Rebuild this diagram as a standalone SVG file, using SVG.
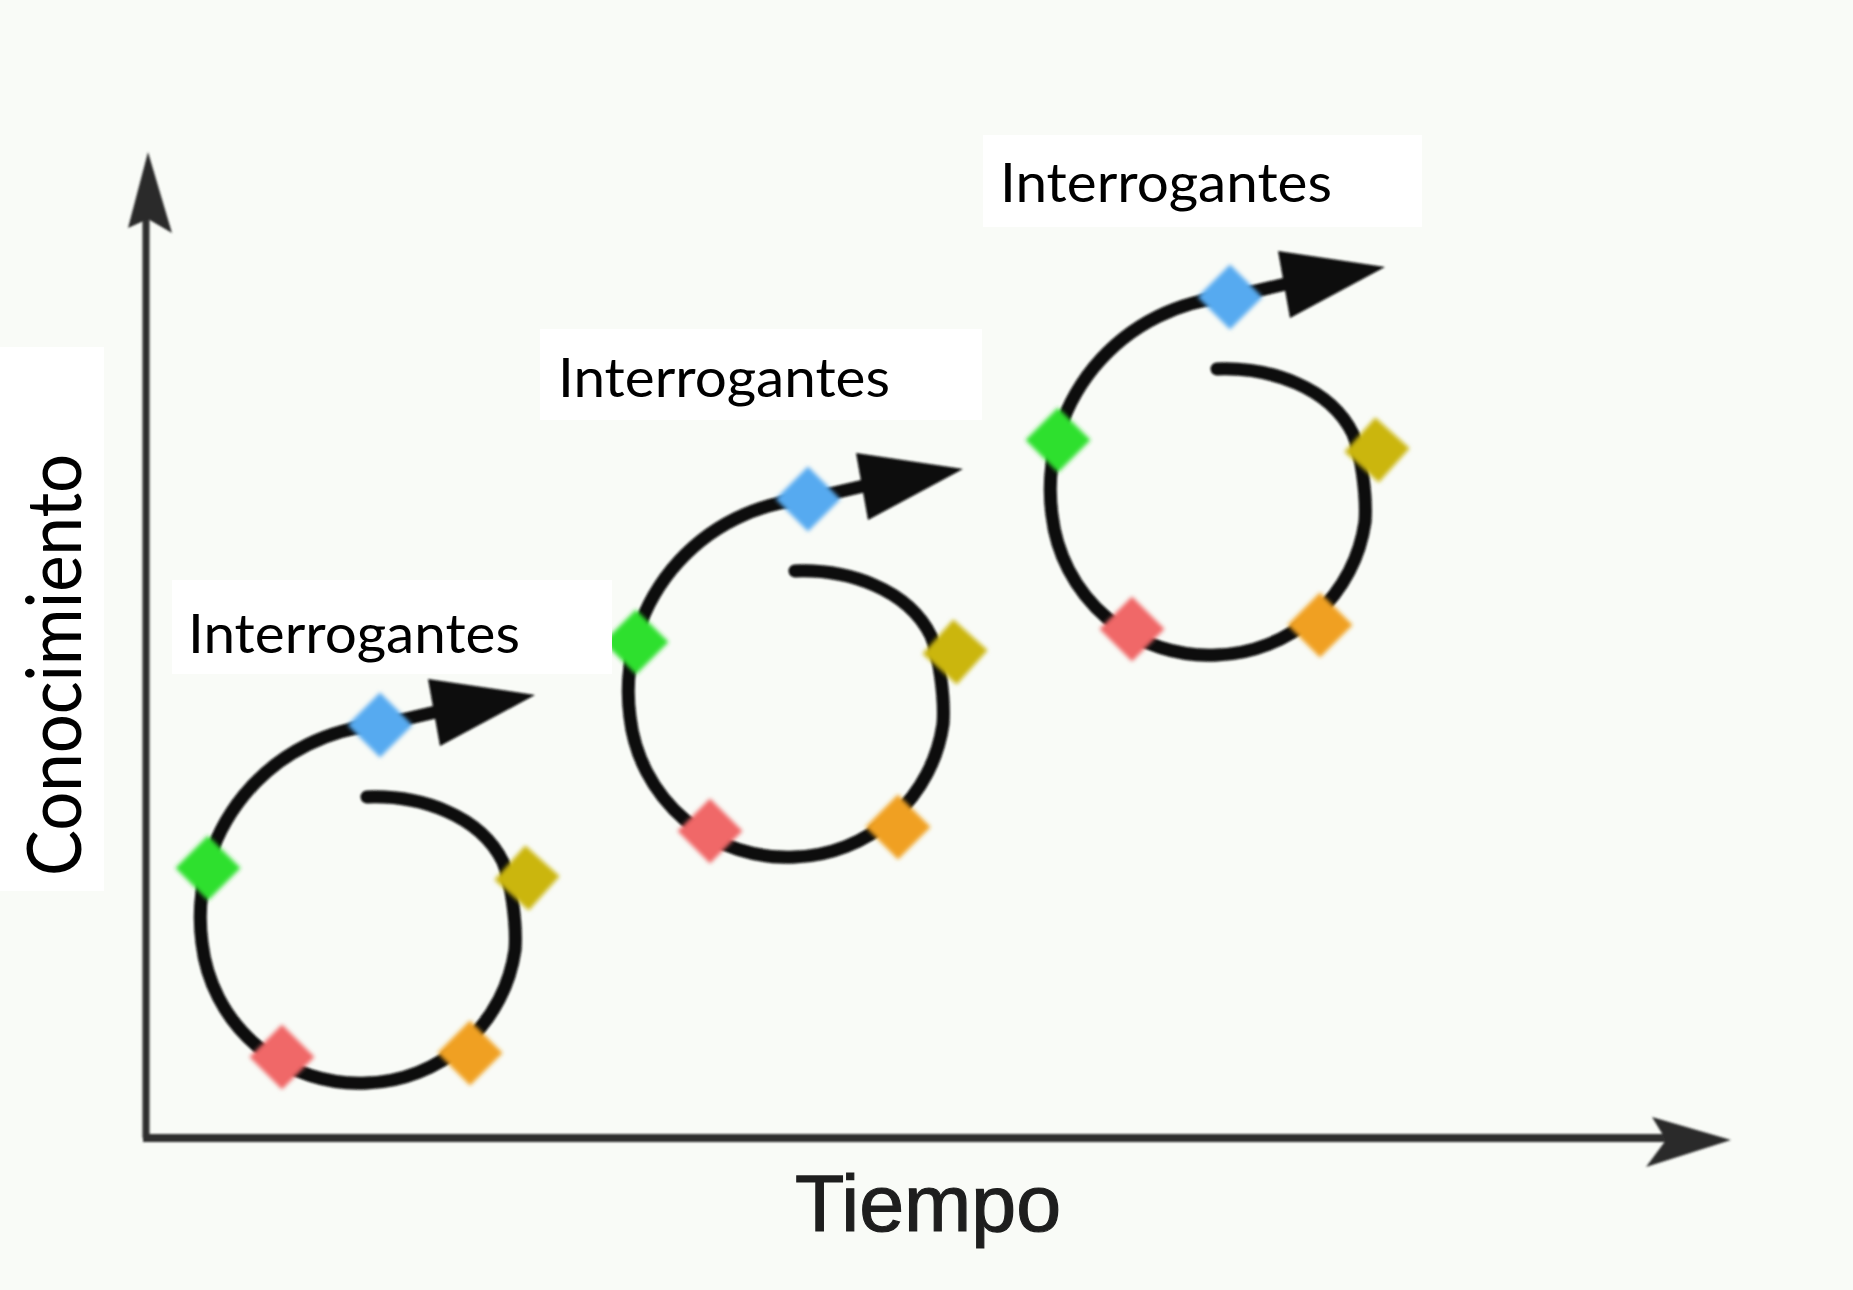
<svg xmlns="http://www.w3.org/2000/svg" xmlns:xlink="http://www.w3.org/1999/xlink" width="1853" height="1290" viewBox="0 0 1853 1290">
<style>
  .bg { fill: #f9fbf7; }
  .box { fill: #ffffff; }
  .spiral { fill: none; stroke: #0a0a0a; stroke-width: 13; stroke-linecap: round; stroke-linejoin: round; }
  .head { fill: #0a0a0a; }
  .axis { fill: none; stroke: #2e2e2e; stroke-width: 7; stroke-linecap: butt; }
  .axhead { fill: #2a2a2a; }
  .lbl { font-family: Lato, "Noto Sans", "Liberation Sans", sans-serif; font-size: 55px; fill: #000000; }
  .ylbl { font-family: Lato, "Noto Sans", "Liberation Sans", sans-serif; font-size: 76px; fill: #000000; }
  .xlbl { font-family: "Liberation Sans", Arial, sans-serif; font-size: 80px; fill: #1e1e1e; stroke: #1e1e1e; stroke-width: 1.2; }
  .green { fill: #2fe02f; }
  .blue { fill: #56aaf0; }
  .yellow { fill: #cbb60e; }
  .orange { fill: #f0a020; }
  .red { fill: #f06868; }
</style>
<defs>
  <filter id="soft" x="-10%" y="-10%" width="120%" height="120%">
    <feGaussianBlur stdDeviation="1.3"/>
  </filter>
  <filter id="softer" x="-30%" y="-30%" width="160%" height="160%">
    <feGaussianBlur stdDeviation="2.2"/>
  </filter>
  <rect id="dia" x="-23" y="-23" width="46" height="46"/>
  <g id="cycle-shape">
    <g filter="url(#soft)">
      <path class="spiral" d="M367,797 C420,795 480,815 503,862 C511,880 517,925 515,950 A155,155 0 0 1 367,1083 A158,158 0 0 1 202,943 A193,193 0 0 1 380,725 L440,711"/>
      <polygon class="head" points="428,679 535,695 440,746"/>
    </g>
    <g filter="url(#softer)">
      <use xlink:href="#dia" class="green" transform="translate(208,868) rotate(45)"/>
      <use xlink:href="#dia" class="blue" transform="translate(380,725) rotate(45)"/>
      <use xlink:href="#dia" class="yellow" transform="translate(527,878) rotate(42)"/>
      <use xlink:href="#dia" class="orange" transform="translate(470,1053) rotate(45)"/>
      <use xlink:href="#dia" class="red" transform="translate(282,1057) rotate(45)"/>
    </g>
  </g>
</defs>

<rect class="bg" x="0" y="0" width="1853" height="1290"/>

<g id="connectors" filter="url(#soft)">
  <line class="axis" x1="146" y1="1138" x2="146" y2="210"/>
  <path class="axhead" d="M148,152 L172,233 L148,219 L128,228 Z"/>
  <line class="axis" x1="143" y1="1138" x2="1675" y2="1138" style="stroke-width:8"/>
  <path class="axhead" d="M1731,1140 L1646,1167 L1666,1140 L1652,1117 Z"/>
</g>

<g id="cycle-1">
  <use xlink:href="#cycle-shape"/>
</g>
<g id="cycle-2" transform="translate(428,-226)">
  <use xlink:href="#cycle-shape"/>
</g>
<g id="cycle-3" transform="translate(850,-428)">
  <use xlink:href="#cycle-shape"/>
</g>

<g id="label-1">
  <rect class="box" x="172" y="580" width="440" height="94"/>
  <text class="lbl" x="188" y="653" textLength="332" lengthAdjust="spacingAndGlyphs">Interrogantes</text>
</g>
<g id="label-2">
  <rect class="box" x="540" y="329" width="442" height="91"/>
  <text class="lbl" x="558" y="397" textLength="332" lengthAdjust="spacingAndGlyphs">Interrogantes</text>
</g>
<g id="label-3">
  <rect class="box" x="983" y="135" width="439" height="92"/>
  <text class="lbl" x="1000" y="202" textLength="332" lengthAdjust="spacingAndGlyphs">Interrogantes</text>
</g>

<g id="y-label">
  <rect class="box" x="0" y="347" width="104" height="544"/>
  <text class="ylbl" transform="translate(81,876) rotate(-90)" textLength="422" lengthAdjust="spacingAndGlyphs">Conocimiento</text>
</g>

<g id="x-label">
  <text class="xlbl" x="795" y="1231" textLength="266" lengthAdjust="spacingAndGlyphs">Tiempo</text>
</g>
</svg>
